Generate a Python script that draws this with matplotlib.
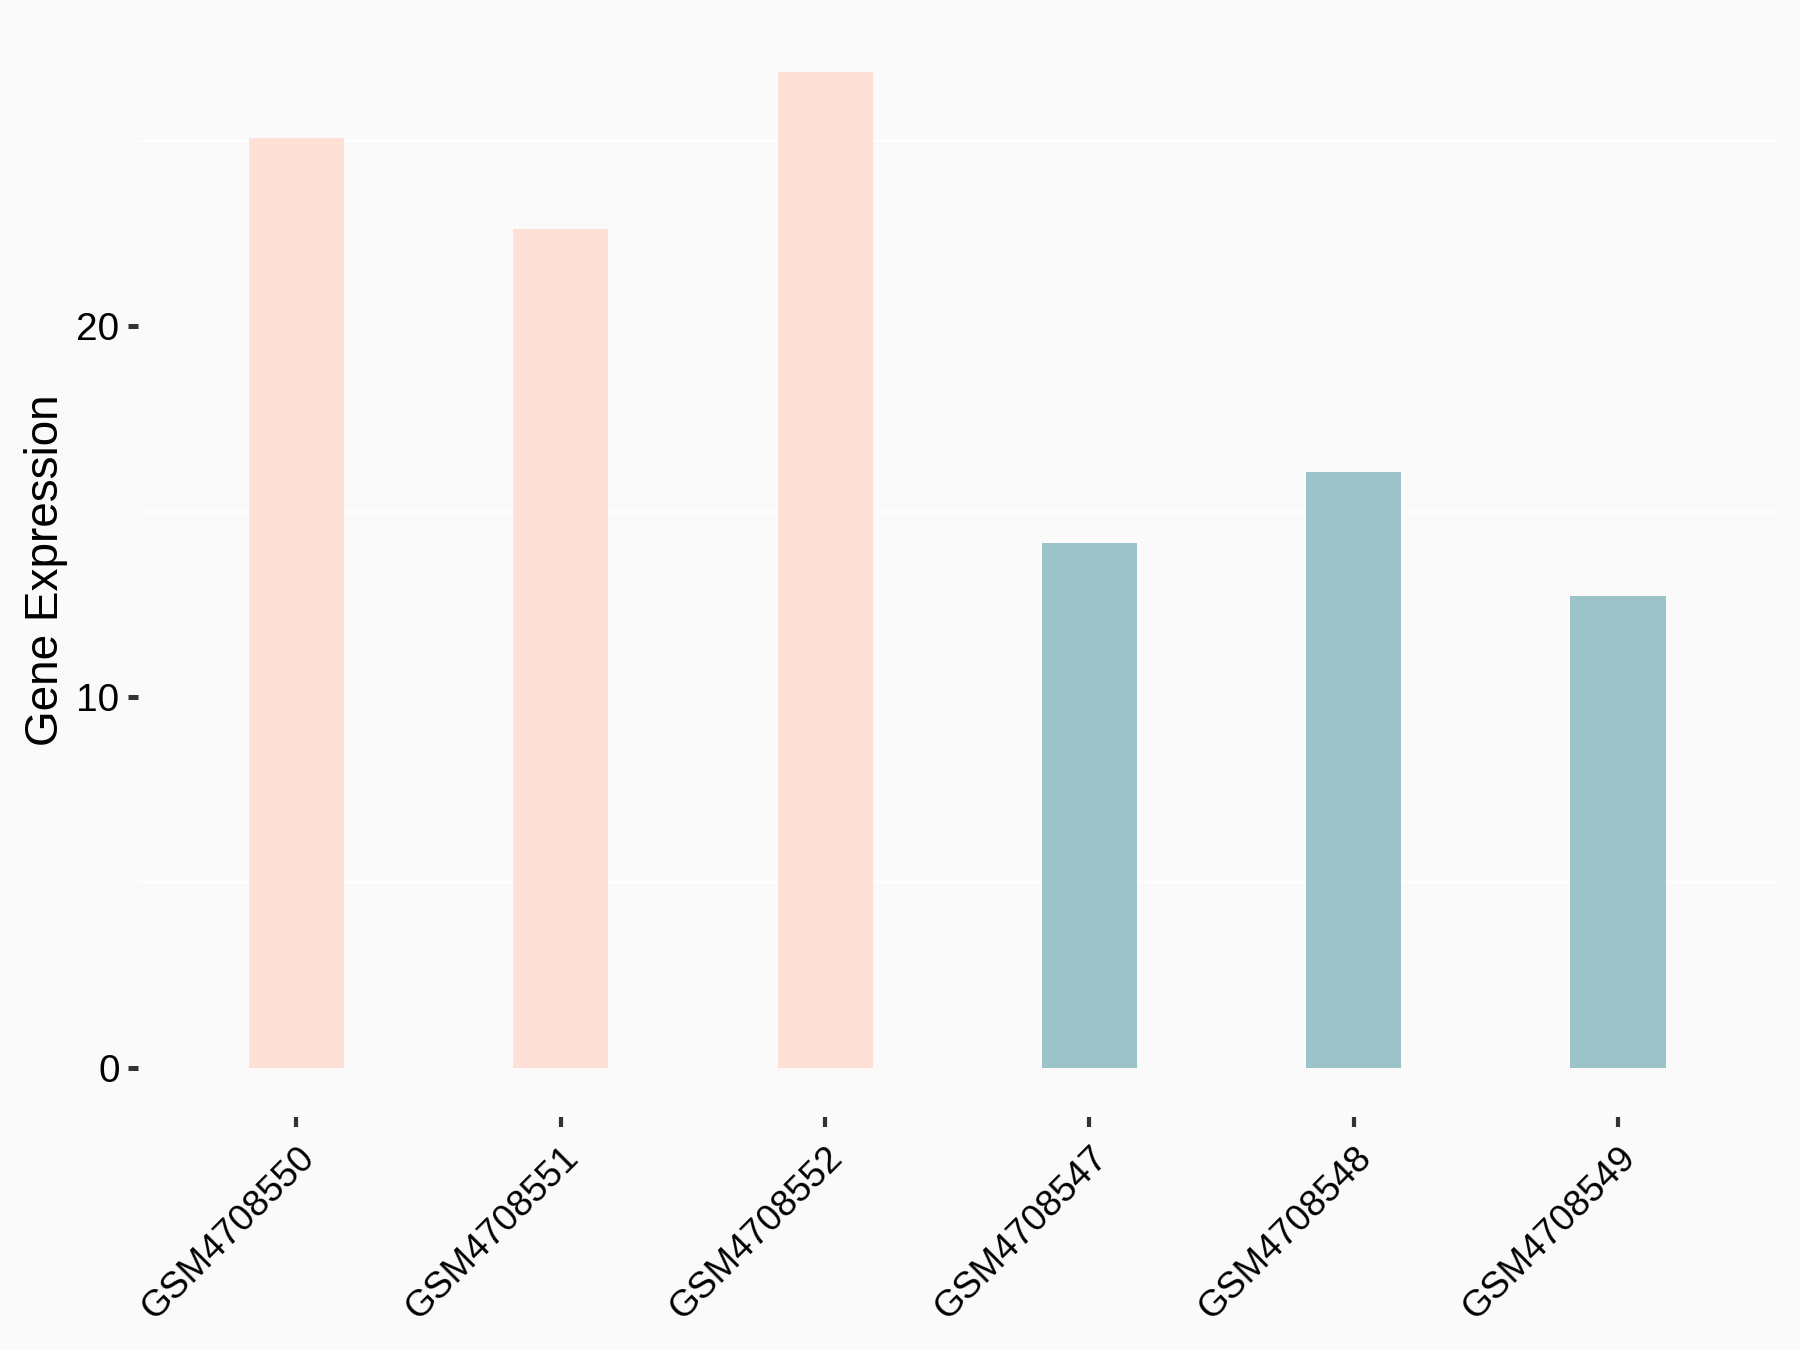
import matplotlib
matplotlib.use("Agg")
import matplotlib.pyplot as plt
from matplotlib.ticker import FixedLocator

samples = ["GSM4708550", "GSM4708551", "GSM4708552", "GSM4708547", "GSM4708548", "GSM4708549"]
values = [25.07, 22.61, 26.85, 14.14, 16.06, 12.72]
groups = ["A", "A", "A", "B", "B", "B"]
group_colors = {"A": "#FEE0D6", "B": "#9CC4C8"}
y_ticks = [0, 10, 20]
y_minor = [5, 15, 25]

plt.rcParams["font.family"] = ["Liberation Sans", "DejaVu Sans"]

bg = "#FAFAFA"
fig = plt.figure(figsize=(6, 4.5), dpi=300, facecolor=bg)
ax = fig.add_axes([0.0766, 0.1724, 0.9104, 0.8109], facecolor=bg)

x = list(range(len(samples)))
ax.bar(x, values, width=0.36, color=[group_colors[g] for g in groups], zorder=2)

ax.set_xlim(-0.6, len(samples) - 0.4)
ymax = max(values)
ax.set_ylim(-0.05 * ymax, 1.05 * ymax)

ax.set_yticks(y_ticks)
ax.set_yticklabels([str(t) for t in y_ticks])
ax.yaxis.set_minor_locator(FixedLocator(y_minor))
ax.grid(False)
for v in y_minor:
    ax.axhline(v, color="white", lw=0.45, zorder=1)

ax.set_xticks(x)
ax.set_xticklabels(samples, rotation=45, ha="right", rotation_mode="anchor")

for s in ax.spines.values():
    s.set_visible(False)

ax.tick_params(axis="y", which="major", length=2.4, width=1.2, color="#333333",
               labelsize=9.3, labelcolor="black", pad=2)
ax.tick_params(axis="y", which="minor", length=0)
ax.tick_params(axis="x", length=2.4, width=1.0, color="#333333",
               labelsize=8.9, labelcolor="black", pad=3, direction="out")

ax.set_ylabel("Gene Expression", fontsize=11, color="black", labelpad=2)

fig.savefig("out.png", dpi=300, facecolor=bg)
